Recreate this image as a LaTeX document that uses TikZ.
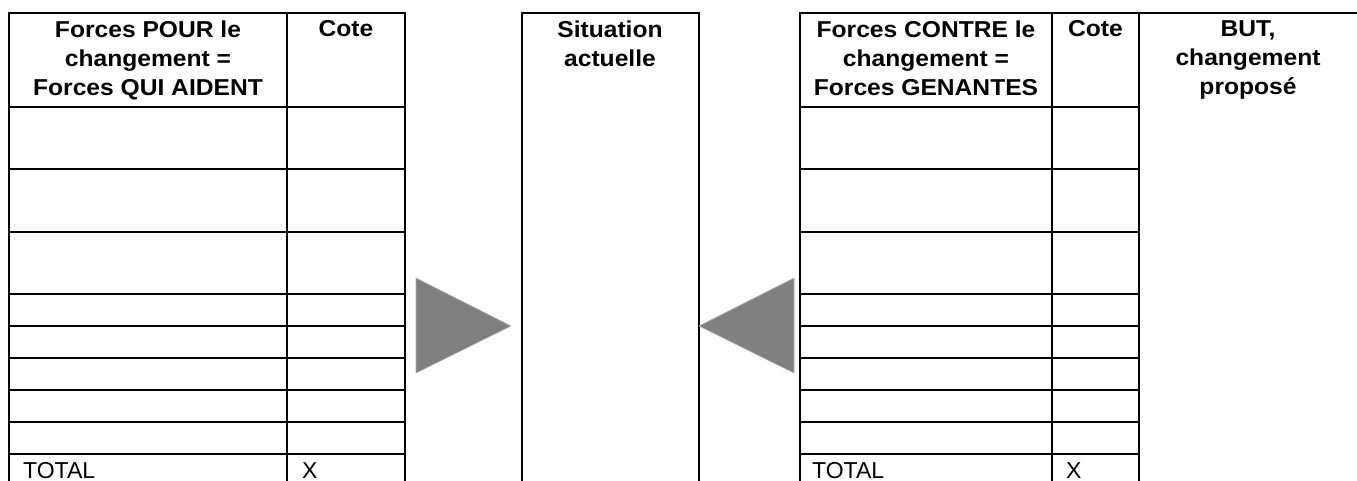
\documentclass[tikz,border=0pt]{standalone}
\usepackage{fontspec}
\setmainfont[FakeStretch=1.07]{Liberation Sans}
\newfontfamily\plainsans{Liberation Sans}
\begin{document}
\begin{tikzpicture}[x=1pt,y=-1pt,
  rule/.style={line width=2.3pt,line cap=rect},
  head/.style={font=\bfseries\fontsize{23}{29.2}\selectfont,align=center,anchor=north,inner sep=0pt},
  body/.style={font=\plainsans\fontsize{23}{28}\selectfont,anchor=base west,inner sep=0pt},
  push/.style={fill=black!50,draw=black!30,line width=0.6pt}]
\useasboundingbox (0,0) rectangle (1357,481);
\begin{scope}
\clip (0,0) rectangle (1357,481);
% left table: forces for the change
\draw[rule] (9,495) -- (9,13) -- (405,13) -- (405,495);
\draw[rule] (287,13) -- (287,495);
\foreach \y in {107,169,232,294,326,358,390,422,454}
  \draw[rule] (9,\y) -- (405,\y);
% current situation column
\draw[rule] (522,495) -- (522,13) -- (699,13) -- (699,495);
% right table: forces against the change, and the goal column
\draw[rule] (800,495) -- (800,13) -- (1370,13);
\draw[rule] (1052,13) -- (1052,495);
\draw[rule] (1139,13) -- (1139,495);
\foreach \y in {107,169,232,294,326,358,390,422,454}
  \draw[rule] (800,\y) -- (1139,\y);
% push arrows
\draw[push] (416,278) -- (416,373) -- (511,326) -- cycle;
\draw[push] (699,326) -- (794,278) -- (794,373) -- cycle;
% labels
\node[head] (pour) at (148,20.5) {Forces POUR le\\changement =\\Forces QUI AIDENT};
\node[head] (cote1) at (346,20.5) {Cote};
\node[head] (sit) at (610,20.5) {Situation\\actuelle};
\node[head] (contre) at (926,20.5) {Forces CONTRE le\\changement =\\Forces GENANTES};
\node[head] (cote2) at (1095.5,20.5) {Cote};
\node[head] (but) at (1248,20.5) {BUT,\\changement\\proposé};
\node[body] (tot1) at (23,478) {TOTAL};
\node[body] (x1) at (302,478) {X};
\node[body] (tot2) at (812,478) {TOTAL};
\node[body] (x2) at (1066,478) {X};
\end{scope}
\end{tikzpicture}
\end{document}
